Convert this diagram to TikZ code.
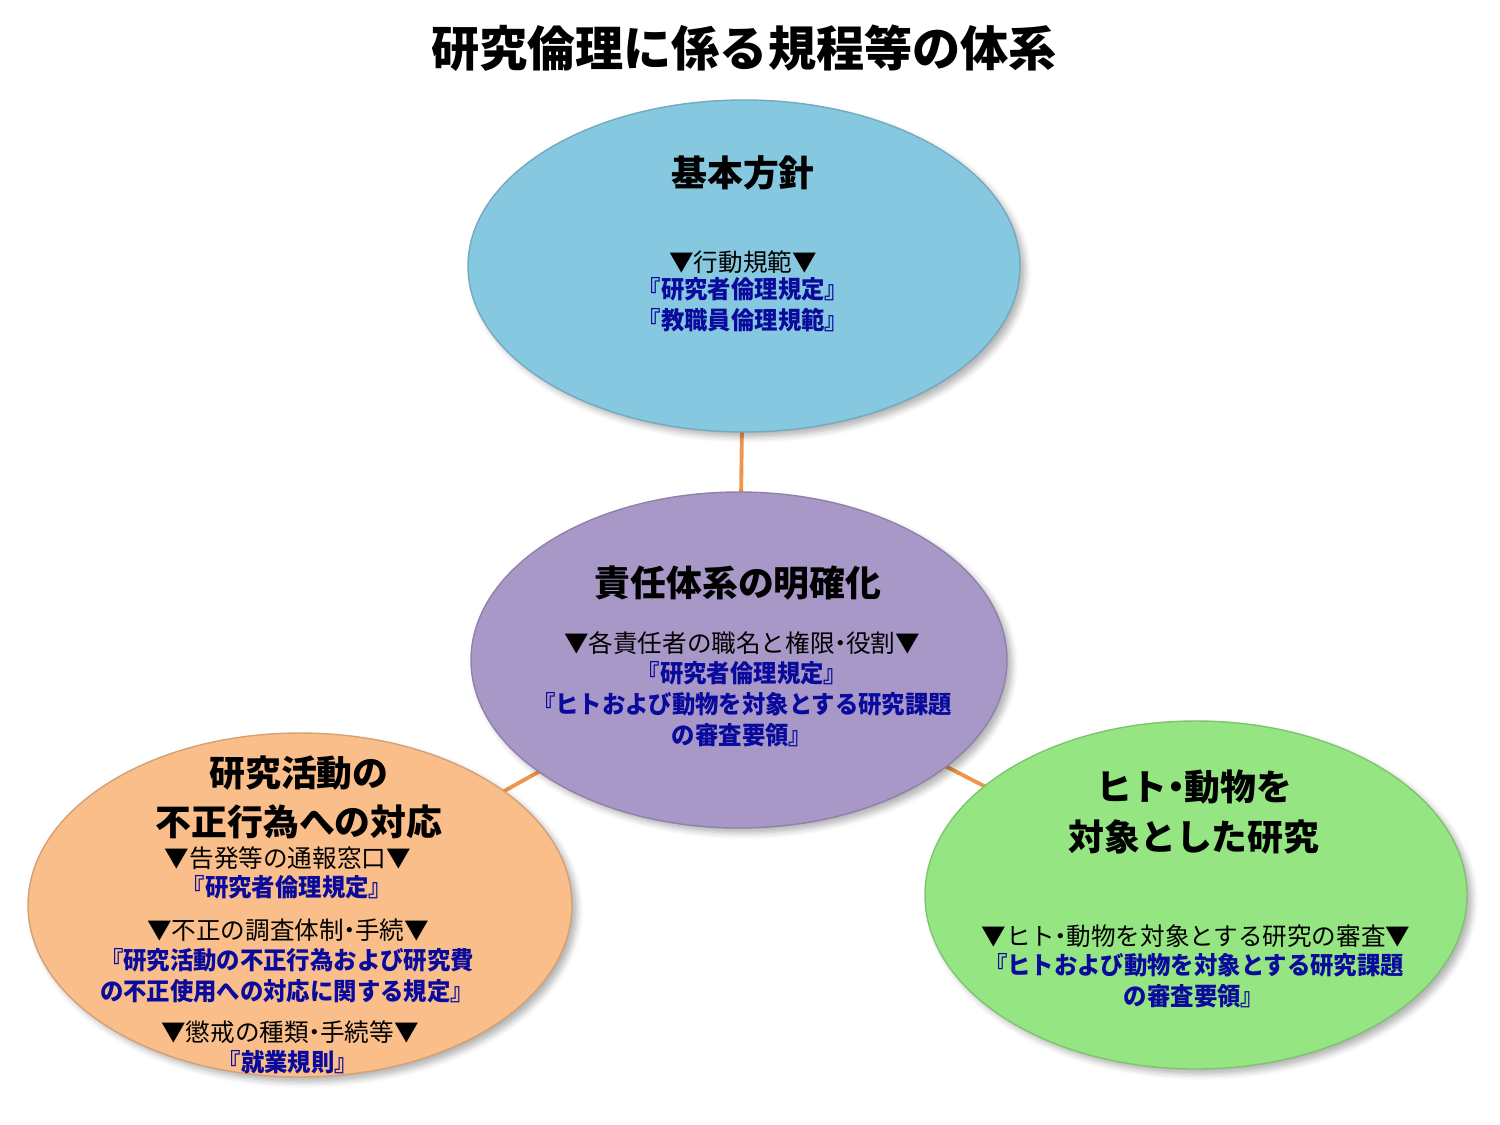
\documentclass[tikz,border=0pt]{standalone}
\usepackage{fontspec}
\usepackage{tikz}
\usetikzlibrary{shapes.geometric,positioning,backgrounds,shadows.blur}
\usepackage{xcolor}
\newfontfamily\jpfont{Noto Sans CJK JP}
\newfontfamily\jpnarrow{Noto Sans CJK JP}[FakeStretch=0.95]
\newcommand\nk{\kern-.27em・\kern-.27em}
\definecolor{cblue}{HTML}{86C8E0}
\definecolor{cpurple}{HTML}{A898C8}
\definecolor{corange}{HTML}{F9BE8A}
\definecolor{cgreen}{HTML}{95E683}
\definecolor{docblue}{HTML}{0A0A9C}
\definecolor{linkorange}{HTML}{F0964A}

\begin{document}
\begin{tikzpicture}[
  ell/.style={ellipse, fill=#1, draw=#1!85!black, line width=0.4pt, inner sep=0pt,
    blur shadow={shadow blur steps=5, shadow xshift=0.5mm, shadow yshift=-0.5mm, shadow opacity=30}},
  ttl/.style={font=\jpfont\bfseries\fontsize{13.7}{16}\selectfont, inner sep=0pt},
  head/.style={font=\jpfont\bfseries\fontsize{10.2}{14}\selectfont, align=center, inner sep=0pt},
  rule/.style={font=\jpfont\fontsize{7}{9}\selectfont, inner sep=0pt},
  doc/.style={font=\jpnarrow\bfseries\fontsize{7}{8.8}\selectfont, text=docblue, align=center, inner sep=0pt},
  link/.style={line width=1.1pt, linkorange}
]
  \useasboundingbox (0,0) rectangle (15,-11.25);

  \node[ttl] (t0) at (7.44,-0.48) {研究倫理に係る規程等の体系};

  \node[ell=cblue, minimum width=5.52cm, minimum height=3.32cm] (e1) at (7.44,-2.66) {};
  \node[ell=cpurple, minimum width=5.36cm, minimum height=3.36cm] (e2) at (7.39,-6.60) {};
  \node[ell=corange, minimum width=5.44cm, minimum height=3.44cm] (e3) at (3.00,-9.05) {};
  \node[ell=cgreen, minimum width=5.42cm, minimum height=3.48cm] (e4) at (11.96,-8.95) {};

  \begin{scope}[on background layer]
    \draw[link] (e2.center) -- (e1.center);
    \draw[link] (e2.center) -- (e3.center);
    \draw[link] (e2.center) -- (e4.center);
  \end{scope}

  % basic policy
  \node[head] (h1) at (7.43,-1.73) {基本方針};
  \node[rule] (r1) at (7.43,-2.62) {▼行動規範▼};
  \node[doc] (d1) at (7.43,-3.05) {『研究者倫理規定』\\『教職員倫理規範』};

  % responsibility
  \node[head] (h2) at (7.38,-5.83) {責任体系の明確化};
  \node[rule] (r2) at (7.42,-6.43) {▼各責任者の職名と権限\nk 役割▼};
  \node[doc] (d2) at (7.42,-7.04) {『研究者倫理規定』\\『ヒトおよび動物を対象とする研究課題\\の審査要領』};

  % misconduct
  \node[head] (h3) at (2.99,-7.975) {研究活動の\\不正行為への対応};
  \node[rule] (r3) at (2.88,-8.58) {▼告発等の通報窓口▼};
  \node[doc] (d3) at (2.87,-8.87) {『研究者倫理規定』};
  \node[rule] (r4) at (2.88,-9.30) {▼不正の調査体制\nk 手続▼};
  \node[doc] (d4) at (2.87,-9.76) {『研究活動の不正行為および研究費\\の不正使用への対応に関する規定』};
  \node[rule] (r5) at (2.90,-10.32) {▼懲戒の種類\nk 手続等▼};
  \node[doc] (d5) at (2.88,-10.62) {『就業規則』};

  % human and animal research
  \node[head] (h4) at (11.94,-8.12) {ヒト\nk 動物を\\対象とした研究};
  \node[rule] (r6) at (11.96,-9.36) {▼ヒト\nk 動物を対象とする研究の審査▼};
  \node[doc] (d6) at (11.94,-9.805) {『ヒトおよび動物を対象とする研究課題\\の審査要領』};
\end{tikzpicture}
\end{document}
